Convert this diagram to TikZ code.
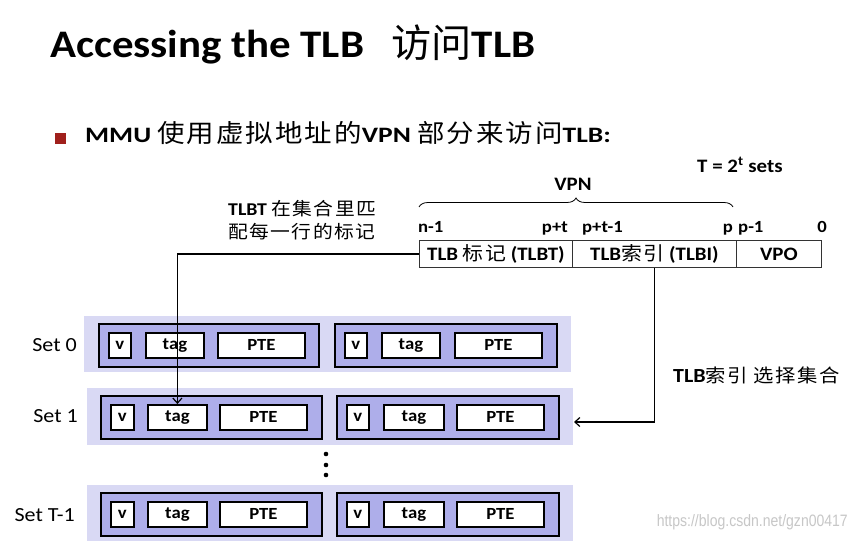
\documentclass[tikz,border=0pt]{standalone}
\usepackage{fontspec}
\setmainfont{Carlito}[FakeStretch=1.1]
\newfontfamily\cjk{Noto Sans CJK SC}[FakeStretch=1.1,LetterSpace=8]
\newfontfamily\cjkt{Noto Sans CJK SC}
\newfontfamily\wmfont{Liberation Sans}[FakeStretch=0.85]
\usetikzlibrary{decorations.pathreplacing,arrows.meta}
\definecolor{setbg}{HTML}{D9D9F4}
\definecolor{waybg}{HTML}{AEAEEA}
\definecolor{bulletred}{HTML}{A0201C}
\newcommand\fs[1]{\fontsize{#1}{#1}\selectfont}
\begin{document}
\begin{tikzpicture}[x=1pt,y=-1pt,
  setrow/.style={fill=setbg,draw=none,inner sep=0pt,anchor=north west},
  waybox/.style={fill=waybg,draw=black,line width=2.4pt,inner sep=0pt,anchor=north west},
  cell/.style={fill=white,draw=black,line width=1.8pt,inner sep=0pt,anchor=north west,
    minimum height=25,font=\fs{17}\bfseries},
  field/.style={draw=black!80,line width=0.8pt,fill=white,inner sep=0pt,anchor=north west,
    minimum height=27,font=\fs{19}\bfseries},
  bitlbl/.style={font=\fs{17}\bfseries,inner sep=0pt},
  setlbl/.style={font=\fs{20},anchor=east,inner sep=0pt},
  conn/.style={draw=black,line width=1.4pt},
  tip/.style={-{Straight Barb[length=5pt,width=9pt,line width=1.2pt]}}
]
\useasboundingbox (0,0) rectangle (851,543);
\fill[white] (0,0) rectangle (851,543);

% title
\node[anchor=base west,inner sep=0pt,font=\fs{39}\bfseries] (title) at (50,58)
  {Accessing the TLB\hspace{0.7em}{\cjkt\mdseries\addfontfeature{FakeStretch=1.03}访问}TLB};

% bullet line
\node[fill=bulletred,minimum width=11,minimum height=11,inner sep=0pt] (bullet) at (60.5,138) {};
\node[anchor=base west,inner sep=0pt,font=\fs{22}\bfseries\addfontfeature{FakeStretch=1.25}] (btext) at (85,142)
  {MMU {\cjk\mdseries\fs{25}使用虚拟地址的}VPN {\cjk\mdseries\fs{25}部分来访问}TLB:};

% T = 2^t sets
\node[anchor=west,inner sep=0pt,font=\fs{19}\bfseries] (tsets) at (697,165) {T = 2\textsuperscript{t} sets};

% VPN and brace
\node[font=\fs{19}\bfseries,inner sep=0pt] (vpn) at (573,184) {VPN};
\draw[line width=0.8pt,decorate,decoration={brace,amplitude=9pt}] (419,207) -- (733,207);

% bit labels
\node[bitlbl,anchor=base west] (bn1) at (418,232) {n-1};
\node[bitlbl,anchor=base east] (bpt) at (568,232) {p+t};
\node[bitlbl,anchor=base west] (bpt1) at (582,232) {p+t-1};
\node[bitlbl,anchor=base east] (bp) at (733,232) {p};
\node[bitlbl,anchor=base west] (bp1) at (738,232) {p-1};
\node[bitlbl,anchor=base east] (b0) at (827,232) {0};

% address fields
\node[field,minimum width=153] (tlbt) at (419,240) {TLB {\cjk\mdseries 标记} (TLBT)};
\node[field,minimum width=164] (tlbi) at (572,240) {TLB{\cjk\mdseries 索引} (TLBI)};
\node[field,minimum width=85] (vpo) at (736,240) {VPO};

% left label
\node[anchor=north west,align=left,inner sep=0pt,font=\fs{18}] (tlbtlbl) at (228,200)
  {\textbf{TLBT} {\cjk 在集合里匹}\\[5pt]{\cjk 配每一行的标记}};

% right label
\node[anchor=west,inner sep=0pt,font=\fs{20}\bfseries] (sellbl) at (673,375)
  {TLB{\cjk\mdseries\fs{18.5}索引 选择集合}};

% sets
\node[setrow,minimum width=487,minimum height=56] (set0) at (84,316) {};
\node[setrow,minimum width=486,minimum height=57] (set1) at (87,388) {};
\node[setrow,minimum width=486,minimum height=56] (setT) at (87,485) {};

\node[setlbl] (l0) at (77,345) {Set 0};
\node[setlbl] (l1) at (78,416) {Set 1};
\node[setlbl] (lT) at (75,515) {Set T-1};

% set 0 ways
\node[waybox,minimum width=220,minimum height=43] (s0a) at (98,323) {};
\node[waybox,minimum width=222,minimum height=43] (s0b) at (334,323) {};
\node[cell,minimum width=22] (s0a-v) at (108,332) {v};
\node[cell,minimum width=58] (s0a-tag) at (145,332) {tag};
\node[cell,minimum width=87] (s0a-pte) at (217,332) {PTE};
\node[cell,minimum width=22] (s0b-v) at (344,332) {v};
\node[cell,minimum width=58] (s0b-tag) at (381,332) {tag};
\node[cell,minimum width=87] (s0b-pte) at (454,332) {PTE};

% set 1 ways
\node[waybox,minimum width=221,minimum height=43] (s1a) at (100,395) {};
\node[waybox,minimum width=222,minimum height=43] (s1b) at (336,395) {};
\node[cell,minimum width=23] (s1a-v) at (110,404) {v};
\node[cell,minimum width=59] (s1a-tag) at (147,404) {tag};
\node[cell,minimum width=87] (s1a-pte) at (219,404) {PTE};
\node[cell,minimum width=22] (s1b-v) at (346,404) {v};
\node[cell,minimum width=60] (s1b-tag) at (383,404) {tag};
\node[cell,minimum width=87] (s1b-pte) at (456,404) {PTE};

% set T-1 ways
\node[waybox,minimum width=221,minimum height=43] (sTa) at (100,492) {};
\node[waybox,minimum width=222,minimum height=43] (sTb) at (336,492) {};
\node[cell,minimum width=23] (sTa-v) at (110,501) {v};
\node[cell,minimum width=59] (sTa-tag) at (147,501) {tag};
\node[cell,minimum width=87] (sTa-pte) at (219,501) {PTE};
\node[cell,minimum width=22] (sTb-v) at (346,501) {v};
\node[cell,minimum width=60] (sTb-tag) at (383,501) {tag};
\node[cell,minimum width=87] (sTb-pte) at (456,501) {PTE};

% vertical dots
\fill (326,454) circle (2.3);
\fill (326,465) circle (2.3);
\fill (326,475) circle (2.3);

% connectors
\coordinate (tagin) at (s1a-tag.north);
\draw[conn,tip] (tlbt.west) -| (tagin);
\coordinate (selpt) at (574,422);
\draw[conn,tip] (tlbi.south) |- (selpt);

% watermark
\node[anchor=east,inner sep=0pt,text=black!22,font=\wmfont\fs{16.5}] (wm) at (848,522) {https://blog.csdn.net/gzn00417};
\end{tikzpicture}
\end{document}
